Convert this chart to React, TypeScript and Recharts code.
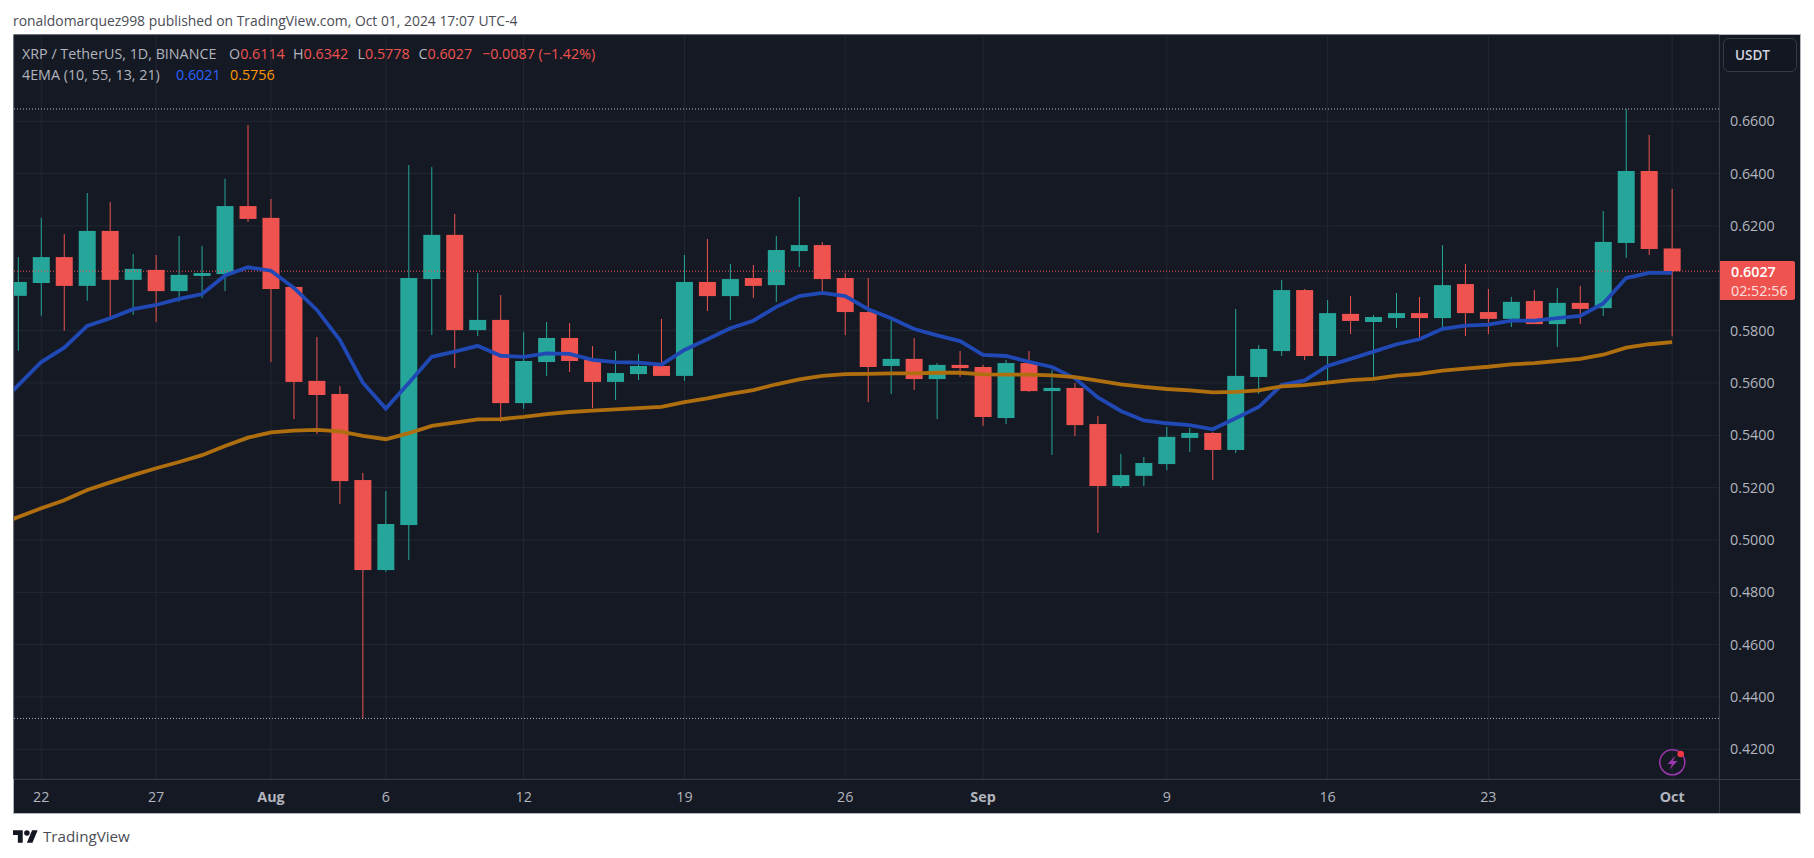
import { Bar, CartesianGrid, ComposedChart, Line, ReferenceLine, XAxis, YAxis } from "recharts";

// one entry per daily candle, 21 Jul to 1 Oct 2024
const opens = [
  0.5933, 0.5982, 0.6081, 0.5971, 0.6181, 0.5994, 0.6032, 0.5951, 0.6009, 0.6016, 0.6276, 0.6231, 0.5967, 0.5608, 0.5558,
  0.5229, 0.4885, 0.5057, 0.5997, 0.6166, 0.5802, 0.5841, 0.5523, 0.568, 0.5772, 0.5688, 0.5604, 0.5634, 0.5665, 0.5627,
  0.5986, 0.5932, 0.6001, 0.5974, 0.6104, 0.6127, 0.6001, 0.5871, 0.5665, 0.5692, 0.5615, 0.5669, 0.5661, 0.5466, 0.5676,
  0.5569, 0.5581, 0.5443, 0.5206, 0.5245, 0.529, 0.539, 0.5409, 0.5344, 0.5623, 0.5722, 0.5955, 0.5703, 0.5864, 0.5833,
  0.5848, 0.5867, 0.5848, 0.5978, 0.5871, 0.5845, 0.5913, 0.5825, 0.5906, 0.5886, 0.6135, 0.641, 0.6114,
];
const highs = [
  0.6081, 0.6231, 0.6169, 0.6326, 0.6292, 0.6093, 0.6089, 0.6162, 0.6124, 0.638, 0.6586, 0.6303, 0.5971, 0.5776, 0.5588,
  0.5256, 0.5187, 0.6433, 0.6425, 0.6246, 0.602, 0.5936, 0.5795, 0.5833, 0.5829, 0.5741, 0.5722, 0.5711, 0.5845, 0.6089,
  0.615, 0.6055, 0.6051, 0.6162, 0.6311, 0.6139, 0.602, 0.6001, 0.5845, 0.5772, 0.5676, 0.5722, 0.5669, 0.5688, 0.5722,
  0.565, 0.56, 0.5474, 0.5329, 0.5317, 0.5432, 0.5428, 0.5413, 0.5883, 0.5745, 0.5994, 0.5959, 0.5917, 0.5932, 0.586,
  0.5944, 0.5929, 0.6127, 0.6055, 0.5959, 0.5929, 0.5955, 0.5963, 0.5971, 0.6257, 0.6647, 0.6548, 0.6342,
];
const lows = [
  0.5723, 0.5857, 0.58, 0.5914, 0.5845, 0.586, 0.5833, 0.5911, 0.5925, 0.5951, 0.6215, 0.568, 0.5462, 0.5405, 0.5138,
  0.4318, 0.4878, 0.4923, 0.5783, 0.5657, 0.5779, 0.5451, 0.5501, 0.5627, 0.5642, 0.5504, 0.5535, 0.5611, 0.5627, 0.5608,
  0.5875, 0.5841, 0.5925, 0.591, 0.6043, 0.5951, 0.5783, 0.5527, 0.5558, 0.5573, 0.5462, 0.5623, 0.5436, 0.5443, 0.5565,
  0.5325, 0.5397, 0.5027, 0.5199, 0.5206, 0.5267, 0.5336, 0.5229, 0.5332, 0.5558, 0.5703, 0.5688, 0.5596, 0.5787, 0.5623,
  0.581, 0.5764, 0.5799, 0.5779, 0.5787, 0.5814, 0.5825, 0.5737, 0.5825, 0.5856, 0.6078, 0.6089, 0.5778,
];
const closes = [
  0.5986, 0.6081, 0.5971, 0.6181, 0.5994, 0.6036, 0.5951, 0.6013, 0.602, 0.6276, 0.6227, 0.5959, 0.5604, 0.5554, 0.5225,
  0.4885, 0.5061, 0.6001, 0.6166, 0.5802, 0.5841, 0.5523, 0.5684, 0.5772, 0.5684, 0.5604, 0.5638, 0.5665, 0.5627, 0.5986,
  0.5932, 0.5997, 0.5971, 0.6108, 0.6127, 0.5997, 0.5871, 0.5661, 0.5692, 0.5615, 0.5669, 0.5657, 0.547, 0.5676, 0.5569,
  0.5581, 0.5439, 0.5206, 0.5248, 0.5294, 0.5394, 0.5409, 0.5344, 0.5627, 0.573, 0.5955, 0.5703, 0.5867, 0.5837, 0.5852,
  0.5867, 0.5848, 0.5974, 0.5867, 0.5845, 0.591, 0.5825, 0.5906, 0.5883, 0.6139, 0.641, 0.6112, 0.6027,
];
const emaFast = [
  0.5592, 0.568, 0.5735, 0.5818, 0.5847, 0.5882, 0.5898, 0.5921, 0.594, 0.6011, 0.6042, 0.6029, 0.5963, 0.5879, 0.5764,
  0.5601, 0.5502, 0.56, 0.57, 0.572, 0.5742, 0.5704, 0.57, 0.5713, 0.5711, 0.5688, 0.568, 0.5678, 0.567, 0.5726,
  0.5767, 0.5809, 0.5838, 0.5891, 0.5932, 0.5944, 0.5932, 0.5882, 0.5847, 0.5806, 0.5782, 0.576, 0.5707, 0.5703, 0.5681,
  0.5661, 0.5618, 0.5545, 0.5493, 0.5457, 0.5446, 0.5439, 0.5423, 0.5465, 0.5508, 0.5592, 0.561, 0.5665, 0.5692, 0.572,
  0.5748, 0.5767, 0.5807, 0.5819, 0.5823, 0.5838, 0.5838, 0.5848, 0.5856, 0.5904, 0.6001, 0.6021, 0.6021,
];
const emaSlow = [
  0.5088, 0.5121, 0.5152, 0.5191, 0.522, 0.5248, 0.5274, 0.5298, 0.5324, 0.5359, 0.5391, 0.5411, 0.5418, 0.5421, 0.5415,
  0.5398, 0.5385, 0.5408, 0.5436, 0.5448, 0.5461, 0.5462, 0.547, 0.5481, 0.5489, 0.5494, 0.5499, 0.5504, 0.5509, 0.5527,
  0.5541, 0.5558, 0.5573, 0.5595, 0.5614, 0.5627, 0.5634, 0.5635, 0.5637, 0.5637, 0.5639, 0.5639, 0.5633, 0.5632, 0.5632,
  0.5629, 0.5622, 0.5609, 0.5595, 0.5585, 0.5577, 0.5572, 0.5564, 0.5566, 0.5572, 0.5587, 0.5592, 0.5601, 0.5611, 0.5616,
  0.5628, 0.5635, 0.5647, 0.5655, 0.5662, 0.5671, 0.5676, 0.5684, 0.5692, 0.5708, 0.5735, 0.5748, 0.5756,
];
// 20 Jul sits off the left edge, only the averages run in from there
const emaFastBefore = 0.5501;
const emaSlowBefore = 0.5053;

const dateTicks = [1, 6, 11, 16, 22, 29, 36, 42, 50, 57, 64, 72];
const dateLabels = ["22", "27", "Aug", "6", "12", "19", "26", "Sep", "9", "16", "23", "Oct"];
const monthLabels = ["Aug", "Sep", "Oct"];
const priceTicks = [0.42, 0.44, 0.46, 0.48, 0.5, 0.52, 0.54, 0.56, 0.58, 0.6, 0.62, 0.64, 0.66];
const hiddenPriceTick = 0.6; // covered by the last price tag

const periodHigh = 0.6647;
const periodLow = 0.4318;
const lastPrice = 0.6027;

const UP = "#26a69a";
const DOWN = "#ef5350";
const BG = "#151924";
const GRID = "#232732";
const AXIS = "#363a45";
const TEXT = "#b2b5be";
const FONT = "'Open Sans', sans-serif";
const FONT_SIZE = 14.3;

const candles = [
  { day: -1, emaFast: emaFastBefore, emaSlow: emaSlowBefore },
  ...opens.map((open, i) => ({
    day: i,
    open,
    high: highs[i],
    low: lows[i],
    close: closes[i],
    range: [lows[i], highs[i]],
    emaFast: emaFast[i],
    emaSlow: emaSlow[i],
  })),
];

// the Bar spans low..high, so the body is placed inside that span
function Candle(props: any) {
  const { x, y, width, height, payload } = props;
  if (payload.open === undefined) return null;
  const color = payload.close >= payload.open ? UP : DOWN;
  const pxPerPrice = height / (payload.high - payload.low);
  const bodyTop = y + (payload.high - Math.max(payload.open, payload.close)) * pxPerPrice;
  const bodyH = Math.max(Math.abs(payload.open - payload.close) * pxPerPrice, 1);
  const mid = x + width / 2;
  return (
    <g>
      <line x1={mid} x2={mid} y1={y} y2={y + height} stroke={color} strokeWidth={1} />
      <rect x={x} y={bodyTop} width={width} height={bodyH} fill={color} />
    </g>
  );
}

function DateTick({ x, y, payload }: any) {
  const label = dateLabels[dateTicks.indexOf(payload.value)];
  return (
    <text
      x={x}
      y={y}
      dy={15}
      textAnchor="middle"
      fontFamily={FONT}
      fontSize={FONT_SIZE}
      fontWeight={monthLabels.includes(label) ? 700 : 400}
      fill={TEXT}
    >
      {label}
    </text>
  );
}

function Label({ left, top, children, style }: any) {
  return (
    <div
      style={{
        position: "absolute",
        left,
        top,
        whiteSpace: "nowrap",
        fontFamily: FONT,
        fontSize: FONT_SIZE,
        ...style,
      }}
    >
      {children}
    </div>
  );
}

function Ohlc({ left, name, value }: any) {
  return (
    <Label left={left} top={44} style={{ color: DOWN }}>
      <span style={{ color: TEXT }}>{name}</span>
      {value}
    </Label>
  );
}

export default function App() {
  return (
    <div style={{ position: "fixed", left: 0, top: 0, width: 1814, height: 858, background: "#fff", overflow: "hidden" }}>
      <Label left={13} top={10.5} style={{ fontSize: 13.9, color: "#4a4d55" }}>
        ronaldomarquez998 published on TradingView.com, Oct 01, 2024 17:07 UTC-4
      </Label>

      <div
        style={{
          position: "absolute",
          left: 13,
          top: 34,
          width: 1786,
          height: 778,
          background: BG,
          border: "1px solid #b2b5be",
        }}
      />

      <div style={{ position: "absolute", left: 0, top: 0 }}>
        <ComposedChart
          width={1814}
          height={858}
          data={candles}
          margin={{ top: 35, left: 14, right: 14, bottom: 45 }}
        >
          <CartesianGrid stroke={GRID} strokeWidth={1} />
          <XAxis
            dataKey="day"
            type="number"
            domain={[-0.187, 74.04]}
            allowDataOverflow
            ticks={dateTicks}
            interval={0}
            height={34}
            axisLine={false}
            tickLine={false}
            tick={<DateTick />}
          />
          <YAxis
            orientation="right"
            width={81}
            domain={[0.40865, 0.69298]}
            allowDataOverflow
            ticks={priceTicks}
            interval={0}
            axisLine={false}
            tickLine={false}
            tickMargin={5}
            tick={{ fill: TEXT, fontSize: FONT_SIZE, fontFamily: FONT }}
            tickFormatter={(v: number) => (v === hiddenPriceTick ? "" : v.toFixed(4))}
          />
          <ReferenceLine y={periodHigh} stroke={TEXT} strokeDasharray="1 2" />
          <ReferenceLine y={periodLow} stroke={TEXT} strokeDasharray="1 2" />
          <Bar dataKey="range" barSize={17} shape={<Candle />} isAnimationActive={false} />
          <ReferenceLine y={lastPrice} stroke={DOWN} strokeDasharray="1 2" />
          <Line dataKey="emaFast" stroke="#2049b5" strokeWidth={3.8} dot={false} isAnimationActive={false} />
          <Line dataKey="emaSlow" stroke="#b06f0e" strokeWidth={3.8} dot={false} isAnimationActive={false} />
        </ComposedChart>
      </div>

      {/* pane separators */}
      <div style={{ position: "absolute", left: 1719, top: 35, width: 1, height: 778, background: AXIS }} />
      <div style={{ position: "absolute", left: 14, top: 779, width: 1786, height: 1, background: AXIS }} />

      <Label left={22} top={44} style={{ color: TEXT }}>
        XRP / TetherUS, 1D, BINANCE
      </Label>
      <Ohlc left={229} name="O" value="0.6114" />
      <Ohlc left={293} name="H" value="0.6342" />
      <Ohlc left={357.5} name="L" value="0.5778" />
      <Ohlc left={418.5} name="C" value="0.6027" />
      <Label left={482} top={44} style={{ color: DOWN }}>
        −0.0087 (−1.42%)
      </Label>
      <Label left={22} top={65} style={{ color: TEXT }}>
        4EMA (10, 55, 13, 21)
      </Label>
      <Label left={176} top={65} style={{ color: "#2962ff" }}>
        0.6021
      </Label>
      <Label left={230} top={65} style={{ color: "#ff9800" }}>
        0.5756
      </Label>

      <div
        style={{
          position: "absolute",
          left: 1723,
          top: 38,
          width: 74,
          height: 34,
          boxSizing: "border-box",
          border: `1px solid ${AXIS}`,
          borderRadius: 6,
          background: "#131722",
          color: "#d1d4dc",
          fontFamily: FONT,
          fontSize: 13.5,
          fontWeight: 600,
          lineHeight: "32px",
          paddingLeft: 11,
        }}
      >
        USDT
      </div>

      <div style={{ position: "absolute", left: 1720, top: 261, width: 75, height: 39, background: DOWN, borderRadius: "0 2px 2px 0" }} />
      <Label left={1731} top={263} style={{ color: "#fff", fontWeight: 600, lineHeight: "17px" }}>
        0.6027
      </Label>
      <Label left={1731} top={281.5} style={{ color: "#fde0df", lineHeight: "17px" }}>
        02:52:56
      </Label>

      <svg style={{ position: "absolute", left: 1658, top: 748 }} width="30" height="30" viewBox="0 0 30 30">
        <circle cx="14.3" cy="14.3" r="12.5" fill="none" stroke="#9c37ad" strokeWidth="1.5" />
        <path d="M17.5 7.5 L9.5 16 L14 16 L11.5 21.5 L19.5 13 L15 13 Z" fill="#9c37ad" />
        <circle cx="22.7" cy="6" r="3.3" fill="#f23645" />
      </svg>

      <svg style={{ position: "absolute", left: 13, top: 829 }} width="25" height="15" viewBox="0 4 36 18">
        <path d="M14 22H7V11H0V4h14v18zM28 22h-8l7.5-18h8L28 22z" fill="#131722" />
        <circle cx="20" cy="8" r="4" fill="#131722" />
      </svg>
      <Label left={43} top={825.6} style={{ fontSize: 15.2, color: "#4a4d55" }}>
        TradingView
      </Label>
    </div>
  );
}
